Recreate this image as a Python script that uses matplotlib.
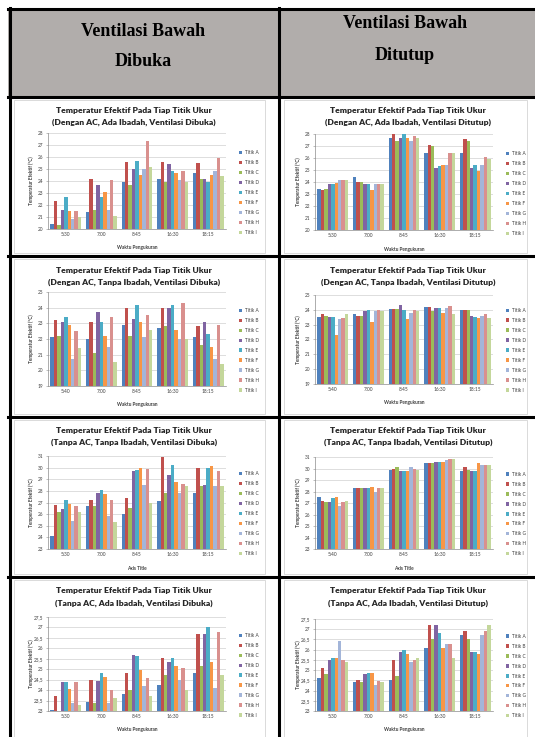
import matplotlib
matplotlib.use("Agg")
import matplotlib.pyplot as plt
from matplotlib.patches import Rectangle
from matplotlib.lines import Line2D
import numpy as np

W, H = 535, 737

series = ["Titik A", "Titik B", "Titik C", "Titik D", "Titik E",
          "Titik F", "Titik G", "Titik H", "Titik I"]
colors = ["#4F81BD", "#C0504D", "#9BBB59", "#8064A2", "#4BACC6",
          "#F79646", "#A3B5D9", "#D9908E", "#C4D79B"]
times = ["5:30", "7:00", "8:45", "16:30", "18:15"]
times_b = ["5:40", "7:00", "8:45", "16:30", "18:15"]

# one row per measuring time, one value per titik
ac_ibadah_buka = [
    [20.4, 22.3, 20.3, 21.6, 22.7, 21.5, 20.8, 21.5, 21.0],
    [21.4, 24.2, 21.6, 23.7, 22.7, 23.1, 21.6, 24.1, 21.1],
    [23.9, 25.6, 23.7, 25.0, 25.7, 24.5, 25.0, 27.3, 25.2],
    [24.2, 25.6, 23.9, 25.4, 24.8, 24.7, 24.1, 24.8, 23.9],
    [24.7, 25.5, 24.2, 24.2, 23.9, 24.5, 24.8, 25.9, 24.4],
]
ac_ibadah_tutup = [
    [23.4, 23.3, 23.4, 23.8, 23.8, 23.9, 24.2, 24.2, 24.2],
    [24.4, 24.0, 24.0, 23.8, 23.8, 23.3, 23.8, 23.8, 23.8],
    [27.7, 28.0, 27.4, 27.7, 28.0, 27.7, 27.4, 27.8, 27.7],
    [26.4, 27.1, 27.0, 25.2, 25.3, 25.4, 25.4, 26.4, 26.4],
    [26.4, 27.6, 27.4, 25.2, 25.4, 24.9, 25.4, 26.1, 25.9],
]
ac_tanpa_buka = [
    [22.1, 23.2, 22.2, 23.1, 23.4, 22.9, 20.7, 22.5, 21.4],
    [22.0, 23.1, 21.1, 23.7, 23.1, 22.2, 21.5, 23.4, 20.5],
    [22.9, 24.0, 22.2, 23.3, 24.2, 23.1, 22.1, 23.5, 22.6],
    [22.7, 24.0, 22.8, 24.0, 24.2, 22.6, 22.0, 24.3, 22.0],
    [22.1, 22.8, 21.6, 23.1, 22.3, 21.5, 20.7, 22.9, 20.4],
]
ac_tanpa_tutup = [
    [23.5, 23.7, 23.6, 23.5, 23.5, 22.3, 23.35, 23.45, 23.7],
    [23.7, 23.6, 23.6, 23.95, 24.0, 23.2, 23.95, 24.0, 23.95],
    [24.05, 24.05, 24.05, 24.3, 24.0, 23.4, 23.8, 24.0, 23.9],
    [24.2, 24.2, 23.9, 24.1, 24.15, 23.8, 24.15, 24.25, 23.7],
    [24.0, 24.0, 24.0, 23.6, 23.5, 23.45, 23.6, 23.7, 23.45],
]
noac_tanpa_buka = [
    [24.1, 26.8, 26.2, 26.4, 27.2, 26.9, 25.4, 26.7, 26.2],
    [26.7, 27.2, 26.7, 27.8, 28.1, 27.7, 25.8, 27.2, 25.3],
    [26.0, 27.4, 26.5, 29.7, 29.8, 30.0, 28.5, 29.9, 27.0],
    [27.1, 30.9, 27.8, 29.4, 30.2, 28.8, 27.8, 28.6, 28.4],
    [27.8, 30.0, 28.4, 28.5, 30.0, 30.1, 28.4, 29.7, 28.4],
]
noac_tanpa_tutup = [
    [27.5, 27.2, 27.1, 27.1, 27.4, 27.5, 26.7, 27.1, 27.2],
    [28.3, 28.3, 28.3, 28.3, 28.3, 28.4, 28.0, 28.3, 28.3],
    [29.9, 30.0, 30.1, 29.8, 29.8, 29.8, 30.1, 30.0, 29.9],
    [30.5, 30.5, 30.5, 30.6, 30.6, 30.6, 30.75, 30.8, 30.8],
    [29.8, 30.1, 29.9, 29.8, 29.8, 30.5, 30.3, 30.3, 30.3],
]
noac_ibadah_buka = [
    [23.03, 23.7, 23.0, 24.4, 24.4, 24.05, 23.4, 24.4, 23.3],
    [23.45, 24.5, 23.4, 24.45, 24.8, 24.65, 23.4, 24.0, 23.6],
    [23.8, 24.8, 24.0, 25.7, 25.65, 24.95, 24.2, 24.6, 23.7],
    [24.25, 25.55, 24.7, 25.35, 25.55, 25.15, 24.5, 25.05, 24.0],
    [24.8, 26.7, 25.15, 26.7, 27.0, 25.35, 24.1, 26.8, 24.7],
]
noac_ibadah_tutup = [
    [24.6, 25.1, 24.8, 25.5, 25.6, 25.6, 26.4, 25.5, 25.4],
    [24.4, 24.5, 24.4, 24.8, 24.85, 24.85, 24.25, 24.45, 24.4],
    [24.5, 25.5, 24.7, 25.9, 26.0, 25.8, 25.4, 25.5, 25.6],
    [26.1, 27.2, 26.5, 27.2, 26.8, 26.1, 26.3, 26.3, 25.6],
    [26.7, 26.9, 26.5, 25.9, 25.9, 25.8, 26.7, 26.9, 27.2],
]

FONT = ["Lato", "DejaVu Sans"]
TXT = "#404040"

fig = plt.figure(figsize=(W / 100, H / 100), dpi=100)
fig.patch.set_facecolor("white")


def px_rect(x0, y0, x1, y1):
    return [x0 / W, 1 - y1 / H, (x1 - x0) / W, (y1 - y0) / H]


def draw_chart(box, data, lo, hi, step, subtitle, xlabel, labels, title_y,
               title_x, comma=False):
    x0, y0, x1, y1 = box
    ax = fig.add_axes(px_rect(x0, y0, x1, y1))
    ax.set_zorder(2)
    ax.patch.set_alpha(0)
    vals = np.array(data)
    x = np.arange(len(labels))
    group = 0.87
    w = group / len(series)
    for i, name in enumerate(series):
        off = -group / 2 + w * (i + 0.5)
        ax.bar(x + off, vals[:, i] - lo, w, bottom=lo, color=colors[i],
               label=name, linewidth=0, zorder=3)
    ax.set_xlim(-0.5, len(labels) - 0.5)
    ax.set_ylim(lo, hi)
    ticks = np.arange(lo, hi + step / 2, step)
    ax.set_yticks(ticks)
    if comma:
        ax.set_yticklabels([f"{t:g}".replace(".", ",") for t in ticks])
    else:
        ax.set_yticklabels([f"{t:g}" for t in ticks])
    ax.set_xticks(x)
    ax.set_xticklabels(labels)
    ax.grid(axis="y", color="#D0D0D0", linewidth=0.5, zorder=0)
    for s in ("top", "right"):
        ax.spines[s].set_visible(False)
    for s in ("left", "bottom"):
        ax.spines[s].set_color("#8C8C8C")
        ax.spines[s].set_linewidth(0.5)
    ax.tick_params(axis="both", labelsize=3.4, colors="#8C8C8C",
                   labelcolor=TXT, length=1.5, width=0.4, pad=2)
    ax.tick_params(axis="x", length=0)
    for lab in ax.get_xticklabels() + ax.get_yticklabels():
        lab.set_family(FONT)

    hpx = y1 - y0
    wpx = x1 - x0
    ax.set_xlabel(xlabel, fontsize=3.4, family=FONT, color=TXT,
                  fontweight="bold", va="center")
    ax.xaxis.set_label_coords(0.5, -19 / hpx)
    ax.set_ylabel("Temperatur Efektif (°C)", fontsize=3.4, family=FONT,
                  color=TXT, fontweight="bold", va="center")
    ax.yaxis.set_label_coords(-17 / wpx, 0.5)

    leg = ax.legend(loc="center left", bbox_to_anchor=(1.06, 0.38),
                    frameon=False, prop={"family": FONT, "size": 3.4},
                    handlelength=0.7, handleheight=0.7, handletextpad=0.5,
                    labelspacing=1.05, borderpad=0)
    for t in leg.get_texts():
        t.set_color(TXT)

    fig.text(title_x / W, 1 - title_y / H,
             "Temperatur Efektif Pada Tiap Titik Ukur",
             ha="center", va="center", fontsize=6.1, family=FONT,
             fontweight="heavy", color="#262626")
    fig.text(title_x / W, 1 - (title_y + 12.5) / H, subtitle,
             ha="center", va="center", fontsize=6.1, family=FONT,
             fontweight="heavy", color="#262626")
    return ax


# table grid
row_tops = [97, 256, 417, 577]
row_bots = [256, 417, 577, 740]

fig.patches.append(Rectangle((8 / W, 1 - 97 / H), (W - 8) / W, 89 / H,
                             transform=fig.transFigure, facecolor="#B1ADAB",
                             edgecolor="none", zorder=-2))

# light frames of the embedded charts
for top, bot in zip(row_tops, row_bots):
    for fx0, fx1 in ((14, 265), (284, 527)):
        fig.patches.append(Rectangle((fx0 / W, 1 - (bot - 3) / H),
                                     (fx1 - fx0) / W, (bot - top - 6) / H,
                                     transform=fig.transFigure,
                                     facecolor="white", edgecolor="#D4D4D4",
                                     linewidth=0.6, zorder=-1))

hdr = dict(ha="center", va="center", fontsize=13, fontweight="bold",
           family=["Liberation Serif", "DejaVu Serif"], color="black")
fig.text(143 / W, 1 - 32 / H, "Ventilasi Bawah", **hdr)
fig.text(143 / W, 1 - 62 / H, "Dibuka", **hdr)
fig.text(405 / W, 1 - 23 / H, "Ventilasi Bawah", **hdr)
fig.text(405 / W, 1 - 55 / H, "Ditutup", **hdr)

lines = [
    ((9.5, 9.5), (8, H)),
    ((278.5, 278.5), (8, H)),
    ((8, W), (9, 9)),
    ((8, W), (97, 97)),
    ((8, W), (256, 256)),
    ((8, W), (417, 417)),
    ((8, W), (577, 577)),
]
for xs, ys in lines:
    fig.lines.append(Line2D([v / W for v in xs], [1 - v / H for v in ys],
                            transform=fig.transFigure, color="black",
                            linewidth=2.2, zorder=10))

L = (48, 226)
R = (315, 493)
TL, TR = 134, 408

draw_chart((L[0], 133, L[1], 229), ac_ibadah_buka, 20, 28, 1,
           "(Dengan AC, Ada Ibadah, Ventilasi Dibuka)", "Waktu Pengukuran",
           times, 110, TL)
draw_chart((R[0], 134, R[1], 230), ac_ibadah_tutup, 20, 28, 1,
           "(Dengan AC, Ada Ibadah, Ventilasi Ditutup)", "Waktu Pengukuran",
           times, 110, TR)
draw_chart((L[0], 292, L[1], 386), ac_tanpa_buka, 19, 25, 1,
           "(Dengan AC, Tanpa Ibadah, Ventilasi Dibuka)", "Waktu Pengukuran",
           times_b, 270, TL)
draw_chart((R[0], 295, R[1], 384), ac_tanpa_tutup, 19, 25, 1,
           "(Dengan AC, Tanpa Ibadah, Ventilasi Ditutup)", "Waktu Pengukuran",
           times_b, 270, TR)
draw_chart((L[0], 456, L[1], 549), noac_tanpa_buka, 23, 31, 1,
           "(Tanpa AC, Tanpa Ibadah, Ventilasi Dibuka)", "Axis Title",
           times, 430, TL)
draw_chart((R[0], 457, R[1], 549), noac_tanpa_tutup, 23, 31, 1,
           "(Tanpa AC, Tanpa Ibadah, Ventilasi Ditutup)", "Axis Title",
           times_b, 430, TR)
draw_chart((L[0], 617, L[1], 711), noac_ibadah_buka, 23, 27.5, 0.5,
           "(Tanpa AC, Ada Ibadah, Ventilasi Dibuka)", "Waktu Pengukuran",
           times, 591, TL, comma=True)
draw_chart((R[0], 619, R[1], 711), noac_ibadah_tutup, 23, 27.5, 0.5,
           "(Tanpa AC, Ada Ibadah, Ventilasi Ditutup)", "Waktu Pengukuran",
           times, 591, TR, comma=True)

fig.savefig("out.png", dpi=100, facecolor="white")
